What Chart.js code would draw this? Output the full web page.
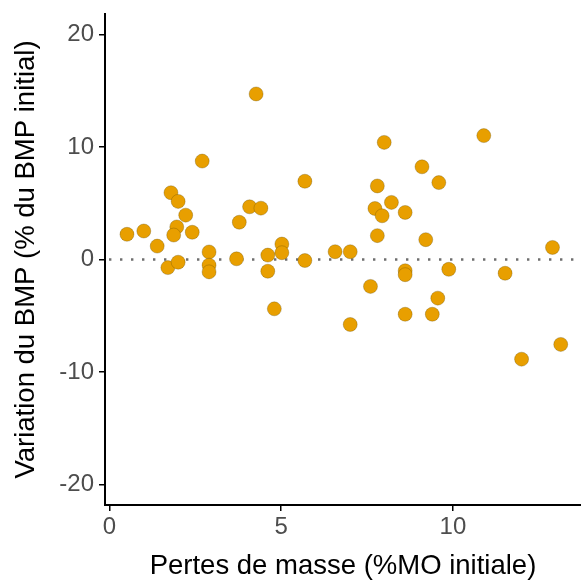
<!DOCTYPE html>
<html>
<head>
<meta charset="utf-8">
<script src="https://cdn.jsdelivr.net/npm/chart.js@4/dist/chart.umd.min.js"></script>
<style>
html,body{margin:0;padding:0;background:#fff;}
#wrap{width:581px;height:580px;position:relative;}
</style>
</head>
<body>
<div id="wrap"><canvas id="c" width="581" height="580"></canvas></div>
<script>
const massLoss = [0.51,1.0,1.39,1.79,2.0,2.22,1.96,1.87,2.41,1.70,2.0,2.70,2.90,2.90,2.90,3.70,3.78,4.08,4.41,4.27,4.61,4.61,4.80,5.02,5.02,5.69,5.69,6.57,7.01,8.0,10.9,9.10,9.59,7.80,8.21,7.73,7.94,8.61,7.80,9.21,12.9,8.61,8.61,9.88,11.52,7.6,9.56,8.61,9.4,7.01,12.0,13.14];
const bmpChange = [2.24,2.53,1.19,5.93,5.16,3.94,2.89,2.17,2.42,-0.72,-0.24,8.74,0.67,-0.5,-1.1,0.06,3.31,4.68,4.56,14.7,0.39,-1.04,-4.38,1.37,0.6,6.95,-0.09,0.69,0.69,10.4,11.0,8.23,6.83,6.53,5.07,4.53,3.88,4.18,2.12,1.76,1.07,-1.0,-1.35,-0.87,-1.22,-2.39,-3.43,-4.86,-4.86,-5.77,-8.85,-7.54];
const xTicks = [0,5,10];
const yTicks = [-20,-10,0,10,20];
const xTitle = 'Pertes de masse (%MO initiale)';
const yTitle = 'Variation du BMP (% du BMP initial)';

const points = massLoss.map((x,i)=>({x:x, y:bmpChange[i]}));

const refLine = {
  id:'refLine',
  beforeDatasetsDraw(chart){
    const {ctx, chartArea, scales} = chart;
    const y = scales.y.getPixelForValue(0);
    ctx.save();
    ctx.strokeStyle = '#6e6e6e';
    ctx.lineWidth = 2.4;
    ctx.setLineDash([2.4, 8.6]);
    ctx.beginPath();
    ctx.moveTo(chartArea.left + 4, y);
    ctx.lineTo(chartArea.right, y);
    ctx.stroke();
    ctx.restore();
  }
};

new Chart(document.getElementById('c'), {
  type:'scatter',
  data:{datasets:[{
    data:points,
    backgroundColor:'#E89F00',
    borderColor:'rgba(90,70,0,0.6)',
    borderWidth:0.5,
    pointRadius:7,
    pointHoverRadius:7
  }]},
  options:{
    responsive:false,
    animation:false,
    events:[],
    layout:{autoPadding:false, padding:{top:14,right:0,left:0,bottom:0}},
    plugins:{legend:{display:false},tooltip:{enabled:false}},
    scales:{
      x:{
        type:'linear', min:-0.13, max:13.73,
        afterBuildTicks(s){ s.ticks = xTicks.map(v=>({value:v})); },
        afterFit(s){ s.height = 75; s.paddingLeft = 0; s.paddingRight = 0; },
        ticks:{color:'#4D4D4D', font:{family:'Liberation Sans', size:24}, padding:2, maxRotation:0},
        grid:{display:true, drawOnChartArea:false, drawTicks:true, tickLength:6, color:'#000', lineWidth:1.5},
        border:{display:true, color:'#000', width:2},
        title:{display:true, text:xTitle, color:'#000', font:{family:'Liberation Sans', size:27.5, lineHeight:1}, padding:{top:0,bottom:0}}
      },
      y:{
        type:'linear', min:-21.8, max:21.8,
        afterBuildTicks(s){ s.ticks = yTicks.map(v=>({value:v})); },
        afterFit(s){ s.width = 105; s.paddingTop = 0; s.paddingBottom = 0; },
        ticks:{color:'#4D4D4D', font:{family:'Liberation Sans', size:24}, padding:5},
        grid:{display:true, drawOnChartArea:false, drawTicks:true, tickLength:6, color:'#000', lineWidth:1.5},
        border:{display:true, color:'#000', width:2},
        title:{display:true, text:yTitle, color:'#000', font:{family:'Liberation Sans', size:27.5, lineHeight:1}, padding:{top:13,bottom:0}}
      }
    }
  },
  plugins:[refLine]
});
</script>
</body>
</html>
